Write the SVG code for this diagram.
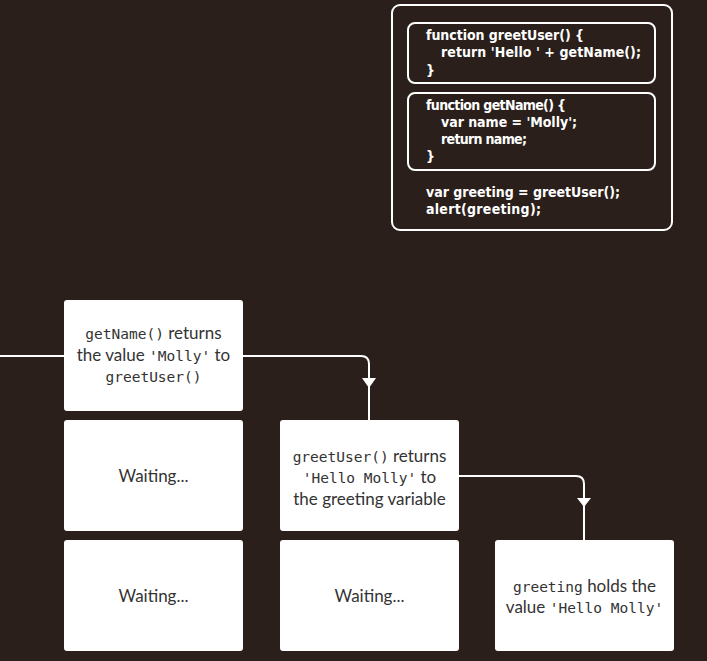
<svg xmlns="http://www.w3.org/2000/svg" width="707" height="661" viewBox="0 0 707 661">
<style>
.bg{fill:#2b1f1b}
.frame{fill:none;stroke:#fff;stroke-width:2}
.code{font-family:"DejaVu Sans",sans-serif;font-stretch:condensed;font-weight:bold;font-size:14px;fill:#fff}
.box{fill:#fff}
.t{font-family:Lato,"Open Sans",sans-serif;font-size:17px;fill:#333;text-anchor:middle}
.w{font-family:Lato,"Open Sans",sans-serif;font-size:17px;fill:#333;text-anchor:middle}
.m{font-family:"DejaVu Sans Mono","Liberation Mono",monospace;font-size:14.5px}
.con{fill:none;stroke:#fff;stroke-width:2}
.arr{fill:#fff}
</style>
<rect class="bg" x="0" y="0" width="707" height="661"/>
<g id="code">
<rect class="frame" x="392" y="5" width="280" height="225" rx="8"/>
<rect class="frame" x="408" y="23" width="247" height="60" rx="7"/>
<rect class="frame" x="408" y="93" width="247" height="77" rx="7"/>
<text class="code" lengthAdjust="spacingAndGlyphs"><tspan x="426" y="40" textLength="158">function greetUser() {</tspan><tspan x="441" y="57" textLength="200">return 'Hello ' + getName();</tspan><tspan x="426" y="75">}</tspan><tspan x="426" y="110" textLength="140">function getName() {</tspan><tspan x="441" y="127" textLength="136">var name = 'Molly';</tspan><tspan x="441" y="144" textLength="86">return name;</tspan><tspan x="426" y="161">}</tspan><tspan x="426" y="197" textLength="194">var greeting = greetUser();</tspan><tspan x="426" y="214" textLength="115">alert(greeting);</tspan></text>
</g>
<g id="connectors">
<path class="con" d="M0,356 H64"/>
<path class="con" d="M243,356 H361 Q369,356 369,364 V420"/>
<polygon class="arr" points="362,378 376,378 369,388"/>
<path class="con" d="M459,476 H576 Q584,476 584,484 V540"/>
<polygon class="arr" points="577,498 591,498 584,507"/>
</g>
<g id="n1">
<rect class="box" x="64" y="300" width="179" height="111" rx="3"/>
<text class="t"><tspan x="153.5" y="339"><tspan class="m">getName()</tspan> returns</tspan><tspan x="153.5" y="361">the value <tspan class="m">'Molly'</tspan> to</tspan><tspan x="153.5" y="382"><tspan class="m">greetUser()</tspan></tspan></text>
</g>
<g id="n2">
<rect class="box" x="64" y="420" width="179" height="111" rx="3"/>
<text class="w" x="153.5" y="482">Waiting...</text>
</g>
<g id="n3">
<rect class="box" x="280" y="420" width="179" height="111" rx="3"/>
<text class="t"><tspan x="369.5" y="462"><tspan class="m">greetUser()</tspan> returns</tspan><tspan x="369.5" y="483"><tspan class="m">'Hello Molly'</tspan> to</tspan><tspan x="369.5" y="505">the greeting variable</tspan></text>
</g>
<g id="n4">
<rect class="box" x="64" y="540" width="179" height="111" rx="3"/>
<text class="w" x="153.5" y="602">Waiting...</text>
</g>
<g id="n5">
<rect class="box" x="280" y="540" width="179" height="111" rx="3"/>
<text class="w" x="369.5" y="602">Waiting...</text>
</g>
<g id="n6">
<rect class="box" x="495" y="540" width="179" height="111" rx="3"/>
<text class="t"><tspan x="584.5" y="592"><tspan class="m">greeting</tspan> holds the</tspan><tspan x="584.5" y="613">value <tspan class="m">'Hello Molly'</tspan></tspan></text>
</g>
</svg>
